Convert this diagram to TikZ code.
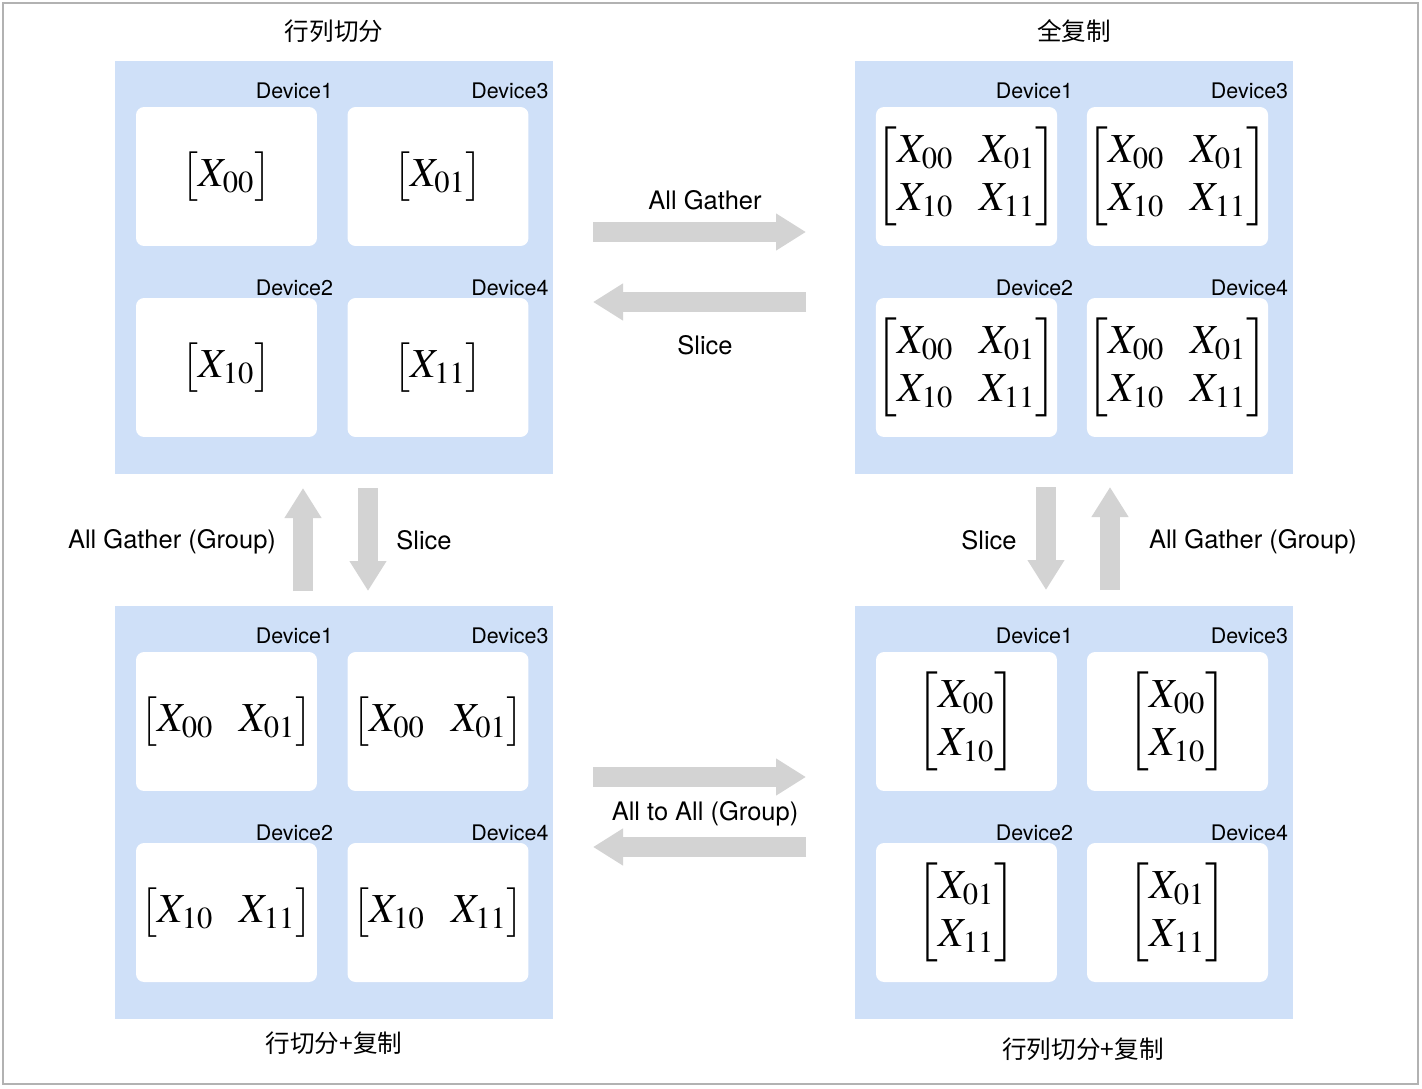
\documentclass[tikz,border=0pt]{standalone}
\usepackage{amsmath}
\usepackage{mathptmx}
\usepackage[no-math]{fontspec}
\setmainfont{TeX Gyre Heros}
\newfontfamily\cjk{Noto Sans CJK SC}
\usetikzlibrary{positioning,arrows.meta}
\definecolor{panelblue}{RGB}{207,224,248}
\definecolor{arrowgray}{RGB}{211,211,211}
\setlength{\arraycolsep}{7.5pt}

% one device: name, centre, label, content, label shift
\newcommand{\devbox}[5]{%
  \node[dev] (#1) at (#2) {#4};
  \node[devlabel] (#1l) at ([shift={(#5)}]#1.north east) {#3};}

\begin{document}
\begin{tikzpicture}[x=0.02cm, y=-0.02cm,
    panel/.style={fill=panelblue, minimum width=8.76cm, minimum height=8.26cm,
                  inner sep=0pt},
    dev/.style={fill=white, rounded corners=0.16cm, minimum width=3.62cm,
                minimum height=2.78cm, inner sep=0pt,
                font=\fontsize{23.5}{27.5}\selectfont},
    devlabel/.style={anchor=base east, inner sep=0pt,
                     font=\fontsize{12.2}{14}\selectfont},
    oplabel/.style={font=\fontsize{14.5}{17}\selectfont},
    title/.style={font=\cjk\fontsize{14}{17}\selectfont},
    bigarrow/.style={draw=arrowgray, line width=0.4cm,
                     -{Triangle[length=0.6cm, width=0.7cm]}}]
  \useasboundingbox (0,0) rectangle (1422,1088);
  \draw[gray!60, line width=0.04cm] (3,3) rectangle (1418,1084);

  % panels
  \node[panel] (tl) at (334,267.5) {};
  \node[panel] (tr) at (1074,267.5) {};
  \node[panel] (bl) at (334,812.5) {};
  \node[panel] (br) at (1074,812.5) {};

  % row and column split
  \devbox{tla}{226.5,176.5}{Device1}{$\begin{bmatrix}X_{00}\end{bmatrix}$}{0.32cm,0.16cm}
  \devbox{tlc}{438,176.5}{Device3}{$\begin{bmatrix}X_{01}\end{bmatrix}$}{0.4cm,0.16cm}
  \devbox{tlb}{226.5,367.5}{Device2}{$\begin{bmatrix}X_{10}\end{bmatrix}$}{0.32cm,0.05cm}
  \devbox{tld}{438,367.5}{Device4}{$\begin{bmatrix}X_{11}\end{bmatrix}$}{0.4cm,0.05cm}

  % full copy
  \devbox{tra}{966.5,176.5}{Device1}{$\begin{bmatrix}X_{00}&X_{01}\\X_{10}&X_{11}\end{bmatrix}$}{0.32cm,0.16cm}
  \devbox{trc}{1177.5,176.5}{Device3}{$\begin{bmatrix}X_{00}&X_{01}\\X_{10}&X_{11}\end{bmatrix}$}{0.4cm,0.16cm}
  \devbox{trb}{966.5,367.5}{Device2}{$\begin{bmatrix}X_{00}&X_{01}\\X_{10}&X_{11}\end{bmatrix}$}{0.32cm,0.05cm}
  \devbox{trd}{1177.5,367.5}{Device4}{$\begin{bmatrix}X_{00}&X_{01}\\X_{10}&X_{11}\end{bmatrix}$}{0.4cm,0.05cm}

  % row split + copy
  \devbox{bla}{226.5,721.5}{Device1}{$\begin{bmatrix}X_{00}&X_{01}\end{bmatrix}$}{0.32cm,0.16cm}
  \devbox{blc}{438,721.5}{Device3}{$\begin{bmatrix}X_{00}&X_{01}\end{bmatrix}$}{0.4cm,0.16cm}
  \devbox{blb}{226.5,912.5}{Device2}{$\begin{bmatrix}X_{10}&X_{11}\end{bmatrix}$}{0.32cm,0.05cm}
  \devbox{bld}{438,912.5}{Device4}{$\begin{bmatrix}X_{10}&X_{11}\end{bmatrix}$}{0.4cm,0.05cm}

  % row and column split + copy
  \devbox{bra}{966.5,721.5}{Device1}{$\begin{bmatrix}X_{00}\\X_{10}\end{bmatrix}$}{0.32cm,0.16cm}
  \devbox{brc}{1177.5,721.5}{Device3}{$\begin{bmatrix}X_{00}\\X_{10}\end{bmatrix}$}{0.4cm,0.16cm}
  \devbox{brb}{966.5,912.5}{Device2}{$\begin{bmatrix}X_{01}\\X_{11}\end{bmatrix}$}{0.32cm,0.05cm}
  \devbox{brd}{1177.5,912.5}{Device4}{$\begin{bmatrix}X_{01}\\X_{11}\end{bmatrix}$}{0.4cm,0.05cm}

  % titles
  \node[title] (ttl) at (334,31) {行列切分};
  \node[title] (ttr) at (1074,31) {全复制};
  \node[title] (tbl) at (334,1043) {行切分+复制};
  \node[title] (tbr) at (1083,1049) {行列切分+复制};

  % arrow ends
  \coordinate (h1s) at (593,232);  \coordinate (h1e) at (806,232);
  \coordinate (h2s) at (806,302);  \coordinate (h2e) at (593,302);
  \coordinate (h3s) at (593,777);  \coordinate (h3e) at (806,777);
  \coordinate (h4s) at (806,847);  \coordinate (h4e) at (593,847);
  \coordinate (v1s) at (303,591);  \coordinate (v1e) at (303,488);
  \coordinate (v2s) at (368,488);  \coordinate (v2e) at (368,591);
  \coordinate (v3s) at (1046,487); \coordinate (v3e) at (1046,590);
  \coordinate (v4s) at (1110,590); \coordinate (v4e) at (1110,487);
  \foreach \a in {h1,h2,h3,h4,v1,v2,v3,v4}
    \draw[bigarrow] (\a s) -- (\a e);

  % operations
  \node[oplabel] (ag) at (705,200) {All Gather};
  \node[oplabel] (sl) at (705,345) {Slice};
  \node[oplabel] (ata) at (705,814) {All to All (Group)};
  \node[oplabel] (agl) at (172,542) {All Gather (Group)};
  \node[oplabel] (sll) at (424,540) {Slice};
  \node[oplabel] (slr) at (989,540) {Slice};
  \node[oplabel] (agr) at (1253,542) {All Gather (Group)};
\end{tikzpicture}
\end{document}
